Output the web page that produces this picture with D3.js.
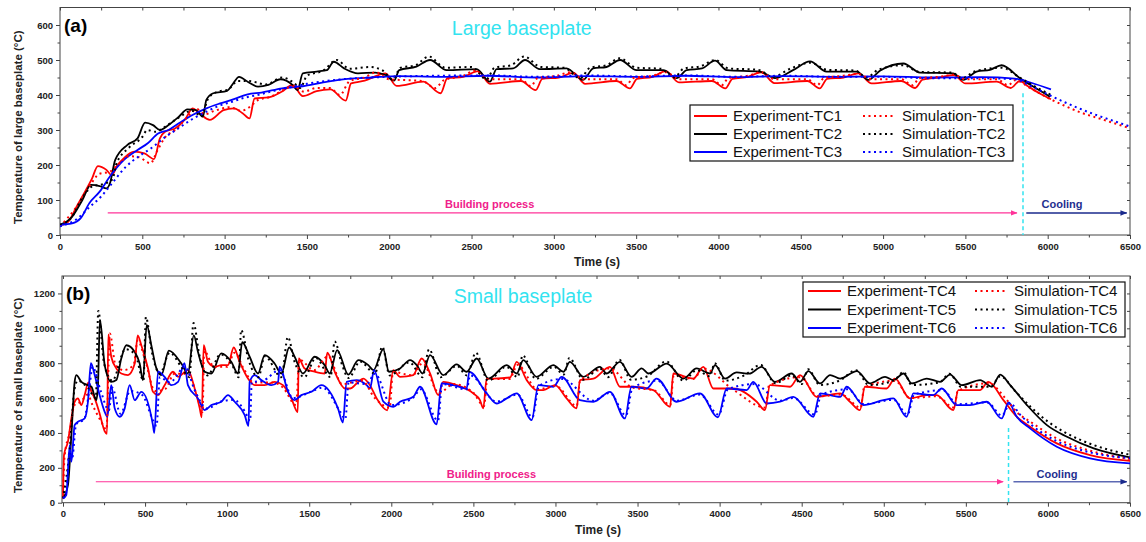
<!DOCTYPE html>
<html>
<head>
<meta charset="utf-8">
<script src="https://cdn.jsdelivr.net/npm/d3@7"></script>
<style>
  body { margin: 0; background: #fff; }
  svg { display: block; font-family: "Liberation Sans", Arial, sans-serif; }
</style>
</head>
<body>
<div id="chart"></div>
<script>
// ---- data: [time (s), temperature (°C)] ----

// (a) large baseplate
const expTC1 = [[0,28],[50,38],[100,80],[146,119],[195,162],[230,197],[282,186],[314,171],[350,200],[387,219],[450,238],[513,233],[571,217],[607,276],[638,295],[701,305],[764,333],[805,362],[847,348],[910,329],[994,357],[1056,362],[1109,348],[1151,333],[1182,390],[1266,393],[1349,410],[1412,429],[1475,397],[1559,411],[1642,416],[1736,384],[1768,433],[1851,441],[1935,457],[1977,462],[2045,426],[2207,438],[2312,405],[2353,448],[2450,452],[2540,468],[2612,432],[2800,440],[2890,414],[2930,446],[3030,450],[3120,463],[3190,432],[3380,440],[3462,419],[3505,446],[3600,452],[3680,468],[3760,436],[3960,440],[4042,419],[4085,446],[4180,452],[4260,465],[4340,434],[4540,440],[4615,419],[4660,446],[4760,450],[4850,462],[4930,433],[5110,440],[5195,420],[5240,444],[5340,450],[5430,457],[5500,433],[5690,438],[5775,420],[5830,440],[5880,425],[5950,405],[6020,388]];
const expTC2 = [[0,29],[73,52],[136,100],[188,143],[241,140],[282,133],[303,147],[335,214],[408,257],[471,276],[517,321],[565,314],[607,300],[659,314],[722,338],[774,359],[826,357],[868,338],[889,386],[931,405],[1015,412],[1046,429],[1088,452],[1140,438],[1203,424],[1266,429],[1339,445],[1412,429],[1443,414],[1475,462],[1559,467],[1621,471],[1663,495],[1726,476],[1810,462],[1914,464],[1977,457],[2029,441],[2061,471],[2165,481],[2248,500],[2349,471],[2531,474],[2612,438],[2652,474],[2753,476],[2825,500],[2915,474],[3077,476],[3178,443],[3239,476],[3320,480],[3402,500],[3503,471],[3665,471],[3746,448],[3807,471],[3900,476],[3979,498],[4050,471],[4252,467],[4343,448],[4453,471],[4556,496],[4657,467],[4840,467],[4910,443],[4981,469],[5123,490],[5224,464],[5426,462],[5487,443],[5568,467],[5650,472],[5720,485],[5831,448],[5912,424],[6014,395]];
const expTC3 = [[0,29],[73,33],[126,48],[178,91],[241,124],[303,167],[387,214],[471,243],[533,262],[596,290],[659,300],[722,319],[805,343],[889,362],[973,376],[1056,388],[1140,402],[1224,407],[1349,419],[1475,425],[1600,436],[1747,446],[1893,450],[2061,454],[2300,452],[2600,455],[2900,450],[3200,454],[3500,452],[3800,455],[4100,451],[4400,454],[4700,452],[5000,453],[5300,450],[5600,451],[5800,447],[5900,435],[6020,416]];
const simTC1 = [[0,25],[100,80],[180,140],[240,175],[300,180],[350,200],[420,225],[480,222],[550,205],[590,240],[640,280],[700,300],[790,345],[830,360],[880,345],[940,355],[1030,365],[1100,355],[1150,365],[1200,385],[1280,395],[1360,415],[1420,425],[1480,410],[1560,420],[1640,420],[1700,400],[1760,440],[1850,450],[1920,465],[2000,445],[2200,440],[2280,420],[2330,442],[2450,455],[2520,470],[2600,445],[2800,445],[2860,425],[2900,448],[3020,455],[3100,465],[3180,445],[3380,445],[3440,428],[3480,448],[3600,455],[3680,465],[3760,445],[3960,445],[4020,428],[4060,448],[4180,455],[4260,465],[4340,445],[4540,445],[4600,428],[4640,448],[4760,455],[4850,460],[4930,445],[5110,445],[5180,428],[5220,448],[5340,452],[5430,458],[5500,445],[5690,445],[5760,428],[5800,442],[5900,418],[6000,392],[6100,370],[6200,350],[6300,335],[6400,320],[6500,305]];
const simTC2 = [[0,29],[70,50],[140,110],[200,140],[260,145],[320,160],[340,200],[420,250],[500,280],[530,300],[580,295],[640,310],[720,335],[800,355],[860,340],[900,390],[960,410],[1020,415],[1080,440],[1150,440],[1250,430],[1350,450],[1420,435],[1460,420],[1500,455],[1600,470],[1680,500],[1760,475],[1880,480],[1960,470],[2020,445],[2070,478],[2160,485],[2240,510],[2340,478],[2500,480],[2590,445],[2640,478],[2740,485],[2820,510],[2920,480],[3060,478],[3160,448],[3220,478],[3320,485],[3400,505],[3500,478],[3650,475],[3730,450],[3790,476],[3890,482],[3980,500],[4060,476],[4240,472],[4330,452],[4440,476],[4560,492],[4660,472],[4830,470],[4900,450],[4970,472],[5120,485],[5220,466],[5420,464],[5480,448],[5560,468],[5720,478],[5830,450],[5920,425],[6000,405],[6020,400]];
const simTC3 = [[0,25],[100,45],[180,80],[250,110],[320,150],[400,195],[480,225],[560,250],[640,280],[720,305],[800,330],[880,350],[960,368],[1040,380],[1120,392],[1200,400],[1300,412],[1400,422],[1500,432],[1650,442],[1800,448],[2000,452],[2300,455],[2600,456],[2900,452],[3200,456],[3500,453],[3800,456],[4100,452],[4400,455],[4700,452],[5000,452],[5300,448],[5600,448],[5800,445],[5900,425],[6000,402],[6100,380],[6200,360],[6300,342],[6400,326],[6500,310]];

// (b) small baseplate
const expTC4 = [[0,25],[6,273],[30,350],[51,483],[71,579],[91,598],[112,560],[132,617],[155,690],[173,636],[193,598],[223,512],[254,410],[268,395],[276,965],[294,837],[325,770],[355,741],[396,732],[437,798],[455,960],[477,903],[518,770],[548,636],[579,617],[619,674],[670,751],[701,722],[761,760],[802,655],[833,541],[845,490],[857,903],[883,808],[924,779],[965,789],[1005,789],[1040,890],[1076,808],[1127,712],[1168,674],[1229,674],[1290,693],[1340,674],[1391,598],[1430,520],[1436,827],[1472,770],[1533,751],[1594,741],[1610,860],[1660,740],[1718,655],[1749,655],[1789,684],[1830,712],[1870,674],[1911,598],[1975,530],[2012,760],[2053,722],[2134,732],[2185,827],[2236,741],[2286,617],[2316,693],[2398,674],[2499,627],[2540,588],[2560,541],[2581,712],[2621,712],[2723,718],[2764,808],[2825,703],[2886,646],[2926,646],[2997,674],[3068,598],[3129,541],[3149,703],[3231,712],[3332,779],[3393,665],[3474,665],[3596,646],[3698,550],[3718,741],[3840,712],[3901,779],[3962,655],[4084,655],[4226,579],[4276,531],[4307,674],[4429,665],[4490,732],[4591,607],[4734,627],[4794,579],[4855,531],[4885,665],[5017,655],[5068,712],[5159,598],[5261,617],[5322,617],[5424,531],[5454,646],[5586,646],[5637,693],[5729,588],[5810,493],[5891,436],[6054,340],[6257,273],[6500,240]];
const expTC5 = [[0,25],[30,101],[51,388],[71,693],[81,732],[112,693],[152,674],[173,665],[203,588],[213,674],[225,1050],[254,789],[294,693],[325,703],[355,827],[386,903],[437,865],[467,798],[487,703],[510,1020],[538,903],[569,770],[599,732],[645,872],[721,798],[761,741],[797,960],[822,865],[863,751],[904,741],[964,856],[1025,808],[1066,741],[1092,920],[1137,837],[1188,741],[1229,846],[1289,798],[1330,741],[1378,890],[1411,837],[1462,741],[1533,837],[1594,789],[1625,741],[1670,875],[1738,735],[1799,818],[1860,789],[1891,760],[1951,880],[1985,751],[2053,770],[2114,818],[2155,789],[2190,741],[2236,846],[2316,732],[2398,793],[2459,751],[2520,827],[2591,712],[2703,789],[2764,741],[2804,818],[2885,722],[2987,789],[3048,751],[3088,808],[3169,722],[3271,779],[3312,741],[3393,808],[3464,722],[3525,770],[3566,741],[3678,798],[3779,712],[3860,770],[3942,741],[3972,789],[4033,712],[4104,747],[4180,740],[4256,779],[4337,693],[4439,741],[4490,693],[4541,755],[4612,684],[4673,732],[4734,712],[4836,755],[4917,684],[5008,722],[5059,703],[5120,741],[5171,684],[5262,712],[5343,693],[5404,735],[5475,674],[5587,703],[5658,665],[5709,735],[5770,674],[5872,560],[5994,445],[6116,378],[6279,311],[6500,260]];
const expTC6 = [[0,25],[20,44],[41,330],[51,235],[71,445],[91,464],[132,483],[152,579],[170,800],[193,732],[223,617],[254,521],[270,493],[294,674],[315,541],[345,493],[376,541],[406,674],[437,588],[477,636],[548,445],[556,400],[579,751],[619,722],[660,674],[701,693],[740,800],[761,674],[822,598],[863,531],[904,560],[964,579],[1005,617],[1046,579],[1107,502],[1130,440],[1137,693],[1168,732],[1208,703],[1269,674],[1310,693],[1320,780],[1371,636],[1411,588],[1452,617],[1513,636],[1574,674],[1675,541],[1705,460],[1728,693],[1789,703],[1850,674],[1870,655],[1895,760],[1952,579],[2012,550],[2053,579],[2134,607],[2175,665],[2276,450],[2306,684],[2378,674],[2459,655],[2475,750],[2581,627],[2642,569],[2703,598],[2764,627],[2855,474],[2896,674],[2987,665],[3038,722],[3149,588],[3231,579],[3332,636],[3423,483],[3463,665],[3555,655],[3616,712],[3738,579],[3880,627],[3990,490],[4043,655],[4165,646],[4205,693],[4287,569],[4368,579],[4449,607],[4571,493],[4612,627],[4734,607],[4774,665],[4876,560],[4997,588],[5058,598],[5139,493],[5180,627],[5302,617],[5353,655],[5444,560],[5525,560],[5627,579],[5718,483],[5760,575],[5810,493],[5891,426],[6054,321],[6257,254],[6500,225]];
const simTC4 = [[0,25],[10,270],[40,400],[70,560],[110,580],[150,620],[180,560],[230,470],[265,420],[285,970],[320,790],[370,760],[430,790],[455,930],[500,820],[560,640],[620,650],[680,740],[760,740],[820,600],[850,520],[860,870],[920,780],[1000,780],[1045,860],[1100,770],[1160,690],[1280,690],[1340,660],[1420,560],[1440,820],[1530,760],[1615,840],[1700,680],[1820,700],[1900,600],[1990,545],[2010,750],[2130,730],[2190,800],[2290,630],[2380,680],[2500,630],[2565,555],[2585,710],[2720,710],[2770,790],[2890,650],[3000,670],[3130,555],[3150,700],[3330,770],[3470,660],[3600,645],[3700,560],[3720,730],[3840,710],[3900,770],[4080,650],[4280,545],[4300,670],[4490,720],[4600,610],[4740,620],[4860,545],[4880,660],[5070,700],[5160,600],[5320,610],[5430,545],[5450,640],[5640,685],[5740,600],[5810,520],[5900,460],[6050,370],[6250,300],[6500,250]];
const simTC5 = [[0,25],[40,300],[70,650],[90,700],[150,660],[200,600],[215,1100],[250,800],[300,700],[380,880],[440,850],[490,700],[505,1065],[540,870],[590,740],[650,860],[720,780],[770,720],[795,1030],[830,850],[880,730],[960,850],[1030,790],[1070,720],[1085,990],[1130,820],[1190,720],[1230,840],[1330,720],[1370,950],[1410,810],[1470,720],[1540,830],[1630,720],[1655,925],[1700,790],[1740,715],[1810,810],[1900,740],[1945,895],[1990,730],[2110,805],[2190,720],[2230,880],[2300,720],[2400,785],[2460,730],[2515,860],[2590,700],[2700,780],[2770,720],[2800,845],[2880,710],[2990,780],[3050,735],[3085,830],[3170,705],[3270,770],[3320,720],[3390,820],[3460,705],[3560,725],[3675,810],[3780,700],[3860,760],[3940,725],[3970,800],[4035,700],[4150,730],[4250,790],[4340,685],[4440,730],[4500,680],[4540,765],[4610,675],[4740,705],[4830,760],[4910,675],[5060,700],[5120,750],[5170,675],[5340,690],[5400,740],[5470,665],[5650,665],[5710,725],[5800,640],[5900,545],[6000,465],[6120,395],[6280,330],[6500,275]];
const simTC6 = [[0,25],[20,60],[40,300],[55,250],[80,450],[130,480],[160,650],[180,780],[230,640],[280,530],[300,660],[350,510],[410,640],[480,620],[550,470],[570,440],[590,720],[650,690],[745,780],[800,650],[880,540],[960,580],[1040,590],[1110,520],[1140,470],[1150,690],[1220,700],[1320,760],[1400,600],[1520,640],[1580,660],[1690,520],[1720,480],[1740,690],[1850,680],[1900,740],[2000,560],[2130,600],[2180,650],[2285,470],[2310,680],[2460,650],[2480,730],[2640,580],[2770,620],[2860,490],[2900,670],[3040,710],[3230,585],[3330,630],[3430,500],[3470,660],[3620,700],[3740,585],[3880,620],[3995,505],[4050,650],[4210,680],[4370,585],[4450,600],[4580,505],[4620,620],[4780,650],[4880,565],[5060,590],[5145,505],[5185,620],[5360,645],[5450,565],[5630,575],[5720,500],[5770,570],[5830,505],[5900,445],[6050,355],[6250,290],[6500,255]];

const xTicks = d3.range(0, 6501, 500);
const topYTicks = [0, 100, 200, 300, 400, 500, 600];
const bottomYTicks = [0, 200, 400, 600, 800, 1000, 1200];
const seriesColors = ['#ff0000', '#000000', '#0000ff'];

// ---- layout ----
const width = 1146, height = 542;
const svg = d3.select('#chart').append('svg')
    .attr('width', width)
    .attr('height', height);

const panels = [
    {
        tag: '(a)', title: 'Large baseplate',
        yLabel: 'Temperature of large baseplate (°C)',
        box: { left: 60, right: 1130, top: 7.5, bottom: 235 }, x0: 60,
        yMax: 650, yTicks: topYTicks, yMinorStep: 50,
        exp: [expTC1, expTC2, expTC3], sim: [simTC1, simTC2, simTC3],
        names: ['TC1', 'TC2', 'TC3'],
        legend: { x: 690, y: 105, w: 323, h: 56, rows: [116, 134, 152], c1: 694, c2: 863 },
        buildFrom: 290, buildTo: 5813, coolFrom: 5870, coolTo: 6480, arrowT: 63, textT: 77,
        cut: 5850, cutTop: 405, coolColor: '#1a2a8c', coolText: 6087
    },
    {
        tag: '(b)', title: 'Small baseplate',
        yLabel: 'Temperature of small baseplate (°C)',
        box: { left: 62, right: 1130, top: 276, bottom: 502.7 }, x0: 63,
        yMax: 1300, yTicks: bottomYTicks, yMinorStep: 100,
        exp: [expTC4, expTC5, expTC6], sim: [simTC4, simTC5, simTC6],
        names: ['TC4', 'TC5', 'TC6'],
        legend: { x: 803, y: 282, w: 322, h: 55, rows: [291, 309.5, 328], c1: 808, c2: 975 },
        buildFrom: 200, buildTo: 5727, coolFrom: 5790, coolTo: 6480, arrowT: 120, textT: 141,
        cut: 5760, cutTop: 428, coolColor: '#5d69b3', coolText: 6055
    }
];

// arrow heads
const defs = svg.append('defs');
[['pinkHead', '#ff3399'], ['navyHead', '#1a2a8c'], ['greyHead', '#1a2a8c']].forEach(function(m) {
    defs.append('marker')
        .attr('id', m[0])
        .attr('viewBox', '0 0 10 10')
        .attr('refX', 9).attr('refY', 5)
        .attr('markerWidth', 7).attr('markerHeight', 7)
        .attr('markerUnits', 'userSpaceOnUse')
        .attr('orient', 'auto')
        .append('path')
        .attr('d', 'M0,1 L10,5 L0,9 Z')
        .attr('fill', m[1]);
});

panels.forEach(drawPanel);

function drawPanel(p) {
    const b = p.box;
    const x = d3.scaleLinear().domain([0, 6500]).range([p.x0, b.right]);
    const y = d3.scaleLinear().domain([0, p.yMax]).range([b.bottom, b.top]);
    const g = svg.append('g');

    // axes: major + minor ticks, labels on bottom and left
    const xMinor = d3.range(250, 6500, 500);
    const yMinor = d3.range(p.yMinorStep, p.yMax, p.yMinorStep * 2);

    const bottomAxis = g.append('g').attr('transform', `translate(0,${b.bottom})`)
        .call(d3.axisBottom(x).tickValues(xTicks).tickSize(4).tickPadding(4).tickFormat(d3.format('d')));
    g.append('g').attr('transform', `translate(0,${b.bottom})`)
        .call(d3.axisBottom(x).tickValues(xMinor).tickSize(2.5).tickFormat(''));
    g.append('g').attr('transform', `translate(0,${b.top})`)
        .call(d3.axisTop(x).tickValues(xTicks.concat(xMinor)).tickSize(-3).tickFormat(''));

    const leftAxis = g.append('g').attr('transform', `translate(${b.left},0)`)
        .call(d3.axisLeft(y).tickValues(p.yTicks).tickSize(4).tickPadding(3).tickFormat(d3.format('d')));
    g.append('g').attr('transform', `translate(${b.left},0)`)
        .call(d3.axisLeft(y).tickValues(yMinor).tickSize(2.5).tickFormat(''));
    g.append('g').attr('transform', `translate(${b.right},0)`)
        .call(d3.axisRight(y).tickValues(p.yTicks.concat(yMinor)).tickSize(-3).tickFormat(''));

    g.selectAll('.domain').remove();
    g.selectAll('.tick line').attr('stroke', '#444');
    [bottomAxis, leftAxis].forEach(function(a) {
        a.selectAll('text')
            .attr('font-size', 9.5)
            .attr('font-weight', 'bold')
            .attr('fill', '#222')
            .attr('font-family', '"Liberation Sans", Arial, sans-serif');
    });

    // frame
    g.append('rect')
        .attr('x', b.left).attr('y', b.top)
        .attr('width', b.right - b.left).attr('height', b.bottom - b.top)
        .attr('fill', 'none').attr('stroke', '#444').attr('stroke-width', 1);

    // axis titles
    g.append('text')
        .attr('x', (b.left + b.right) / 2 + 2)
        .attr('y', b.bottom + 31)
        .attr('text-anchor', 'middle')
        .attr('font-size', 12).attr('font-weight', 'bold').attr('fill', '#222')
        .text('Time (s)');
    g.append('text')
        .attr('transform', `translate(22,${(b.top + b.bottom) / 2 + 6}) rotate(-90)`)
        .attr('text-anchor', 'middle')
        .attr('font-size', 11.5).attr('font-weight', 'bold').attr('fill', '#222')
        .text(p.yLabel);

    // panel tag and title
    g.append('text')
        .attr('x', b.left + 4).attr('y', b.top + 24)
        .attr('font-size', 19).attr('font-weight', 'bold')
        .text(p.tag);
    g.append('text')
        .attr('x', x(2380)).attr('y', b.top + 27)
        .attr('font-size', 19.5).attr('fill', '#33e3f0')
        .text(p.title);

    // data lines
    const line = d3.line()
        .x(function(d) { return x(d[0]); })
        .y(function(d) { return y(d[1]); })
        .curve(d3.curveMonotoneX);

    const clipId = 'clip' + p.tag.replace(/\W/g, '');
    defs.append('clipPath').attr('id', clipId)
        .append('rect')
        .attr('x', b.left).attr('y', b.top)
        .attr('width', b.right - b.left).attr('height', b.bottom - b.top);
    const plot = g.append('g').attr('clip-path', `url(#${clipId})`);

    p.exp.forEach(function(series, i) {
        plot.append('path')
            .datum(series)
            .attr('d', line)
            .attr('fill', 'none')
            .attr('stroke', seriesColors[i])
            .attr('stroke-width', 1.8)
            .attr('stroke-linejoin', 'round');
    });
    p.sim.forEach(function(series, i) {
        plot.append('path')
            .datum(series)
            .attr('d', line)
            .attr('fill', 'none')
            .attr('stroke', seriesColors[i])
            .attr('stroke-width', 2)
            .attr('stroke-dasharray', '2,3.5');
    });

    // building / cooling annotations
    g.append('line')
        .attr('x1', x(p.buildFrom)).attr('x2', x(p.buildTo))
        .attr('y1', y(p.arrowT)).attr('y2', y(p.arrowT))
        .attr('stroke', '#ff3399').attr('stroke-width', 1.2)
        .attr('marker-end', 'url(#pinkHead)');
    g.append('text')
        .attr('x', x(2610)).attr('y', y(p.textT))
        .attr('text-anchor', 'middle')
        .attr('font-size', 11).attr('font-weight', 'bold').attr('fill', '#f0208a')
        .text('Building process');
    g.append('line')
        .attr('x1', x(p.coolFrom)).attr('x2', x(p.coolTo))
        .attr('y1', y(p.arrowT)).attr('y2', y(p.arrowT))
        .attr('stroke', p.coolColor).attr('stroke-width', 1.4)
        .attr('marker-end', 'url(#navyHead)');
    g.append('text')
        .attr('x', x(p.coolText)).attr('y', y(p.textT))
        .attr('text-anchor', 'middle')
        .attr('font-size', 11).attr('font-weight', 'bold').attr('fill', '#1f2f8f')
        .text('Cooling');
    g.append('line')
        .attr('x1', x(p.cut)).attr('x2', x(p.cut))
        .attr('y1', y(p.cutTop)).attr('y2', y(0))
        .attr('stroke', '#33e3f0').attr('stroke-width', 1.5)
        .attr('stroke-dasharray', '4,3');

    // legend
    const L = p.legend;
    const lg = g.append('g');
    lg.append('rect')
        .attr('x', L.x).attr('y', L.y).attr('width', L.w).attr('height', L.h)
        .attr('fill', '#fff').attr('stroke', '#111').attr('stroke-width', 1.2);
    p.names.forEach(function(name, i) {
        const ry = L.rows[i];
        lg.append('line')
            .attr('x1', L.c1).attr('x2', L.c1 + 33).attr('y1', ry).attr('y2', ry)
            .attr('stroke', seriesColors[i]).attr('stroke-width', 2);
        lg.append('text')
            .attr('x', L.c1 + 39).attr('y', ry + 5)
            .attr('font-size', 15).attr('fill', '#111')
            .text('Experiment-' + name);
        lg.append('line')
            .attr('x1', L.c2).attr('x2', L.c2 + 33).attr('y1', ry).attr('y2', ry)
            .attr('stroke', seriesColors[i]).attr('stroke-width', 2)
            .attr('stroke-dasharray', '2,3.5');
        lg.append('text')
            .attr('x', L.c2 + 39).attr('y', ry + 5)
            .attr('font-size', 15).attr('fill', '#111')
            .text('Simulation-' + name);
    });
}
</script>
</body>
</html>
